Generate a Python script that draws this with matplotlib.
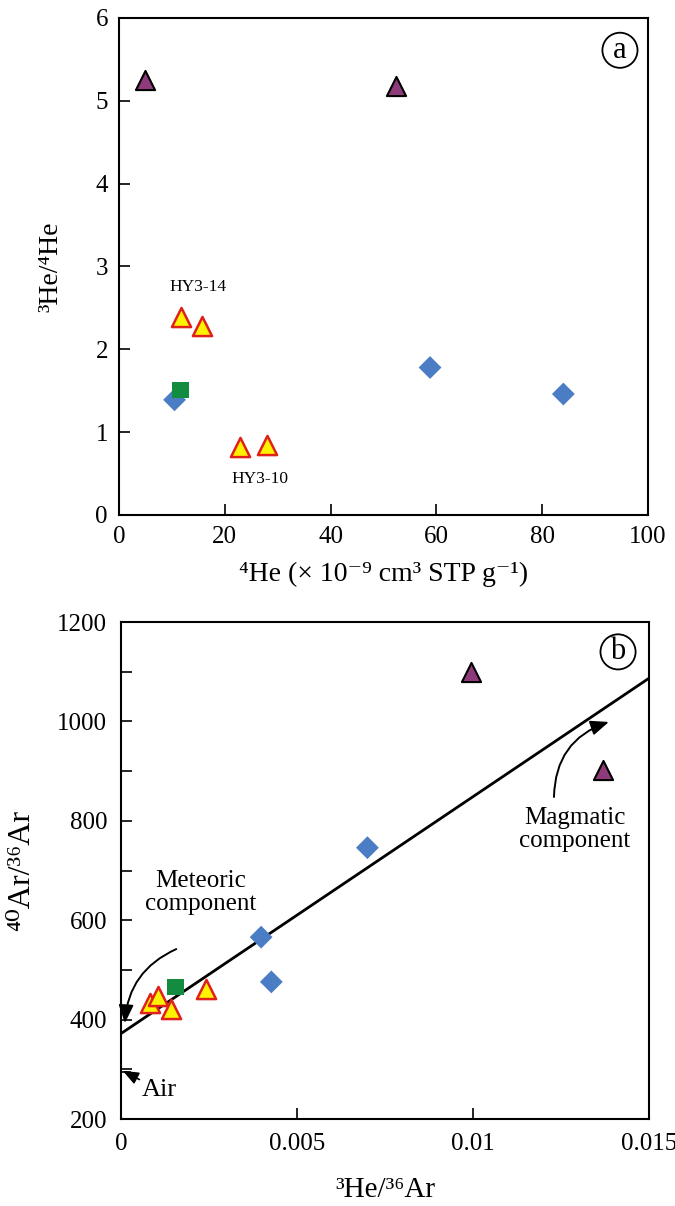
import matplotlib.pyplot as plt
import numpy as np

plt.rcParams['font.family'] = ['Liberation Serif', 'DejaVu Serif']

# Panel a data: 4He vs 3He/4He
he4_purple = [5.0, 52.4]
r_purple = [5.25, 5.18]
he4_yellow = [11.8, 15.7, 22.9, 28.0]
r_yellow = [2.39, 2.28, 0.82, 0.85]
he4_green = [11.6]
r_green = [1.51]
he4_blue = [10.5, 58.8, 84.0]
r_blue = [1.39, 1.78, 1.46]

# Panel b data: 3He/36Ar vs 40Ar/36Ar
hear_purple = [0.00993, 0.0137]
arar_purple = [1100, 902]
hear_yellow = [0.00082, 0.00104, 0.00141, 0.0024]
arar_yellow = [433, 447, 421, 462]
hear_green = [0.00155]
arar_green = [466]
hear_blue = [0.00398, 0.00427, 0.0070]
arar_blue = [566, 476, 746]

# mixing line end points
line_x = [0.0, 0.015]
line_y = [372, 1087]

purple = '#8E3B7C'
yellow = '#FFF200'
red = '#E0201B'
green = '#128C3E'
blue = '#4A7DC3'


def draw_points(ax, xp, yp, xy, yy, xg, yg, xb, yb):
    ax.scatter(xb, yb, marker='D', s=135, c=blue, edgecolors='none', zorder=3)
    ax.scatter(xg, yg, marker='s', s=140, c=green, edgecolors='none', zorder=3)
    ax.scatter(xy, yy, marker='^', s=190, c=yellow, edgecolors=red, linewidths=1.8, zorder=4)
    ax.scatter(xp, yp, marker='^', s=190, c=purple, edgecolors='black', linewidths=1.5, zorder=4)


def style_axes(ax, pad):
    for sp in ax.spines.values():
        sp.set_linewidth(1.5)
    ax.tick_params(which='both', direction='in', length=8, width=1.2,
                   labelsize=18, pad=pad, top=False, right=False)


fig = plt.figure(figsize=(6.75, 12.06), dpi=100)

# ---- panel a ----
ax1 = fig.add_axes([0.1763, 0.5730, 0.7837, 0.4121])
draw_points(ax1, he4_purple, r_purple, he4_yellow, r_yellow,
            he4_green, r_green, he4_blue, r_blue)
ax1.set_xlim(0, 100)
ax1.set_ylim(0, 6)
ax1.set_xticks([0, 20, 40, 60, 80, 100])
ax1.set_yticks([0, 1, 2, 3, 4, 5, 6])
style_axes(ax1, 8)
ax1.set_xlabel('⁴He (× 10⁻⁹ cm³ STP g⁻¹)', fontsize=20, labelpad=10)
ax1.set_ylabel('³He/⁴He', fontsize=20)
ax1.yaxis.set_label_coords(-0.106, 0.5)
ax1.text(15, 2.75, 'HY3-14', fontsize=12.5, ha='center', va='center')
ax1.text(26.7, 0.43, 'HY3-10', fontsize=12.5, ha='center', va='center')
ax1.text(94.7, 5.61, 'a', fontsize=22, ha='center', va='center',
         bbox=dict(boxstyle='circle,pad=0.1', fc='none', ec='black', lw=1.3))

# ---- panel b ----
ax2 = fig.add_axes([0.1793, 0.0721, 0.7822, 0.4121])
draw_points(ax2, hear_purple, arar_purple, hear_yellow, arar_yellow,
            hear_green, arar_green, hear_blue, arar_blue)
ax2.plot(line_x, line_y, color='black', lw=2, zorder=2)
ax2.plot([0, 0.00025], [295.5, 295.5], color='black', lw=1.2, zorder=2)
ax2.set_xlim(0, 0.015)
ax2.set_ylim(200, 1200)
ax2.set_xticks([0, 0.005, 0.01, 0.015])
ax2.set_xticklabels(['0', '0.005', '0.01', '0.015'])
ax2.set_yticks([200, 400, 600, 800, 1000, 1200])
ax2.set_yticks([300, 500, 700, 900, 1100], minor=True)
style_axes(ax2, 10)
ax2.set_xlabel('³He/³⁶Ar', fontsize=21, labelpad=16)
ax2.set_ylabel('⁴⁰Ar/³⁶Ar', fontsize=23)
ax2.yaxis.set_label_coords(-0.161, 0.5)
ax2.text(0.01412, 1140, 'b', fontsize=22, ha='center', va='center',
         bbox=dict(boxstyle='circle,pad=0.1', fc='none', ec='black', lw=1.3))

ax2.text(0.00227, 655, 'Meteoric\ncomponent', fontsize=18, ha='center', va='center',
         linespacing=1.05)
ax2.annotate('', xy=(0.00011, 393), xytext=(0.00157, 542),
             arrowprops=dict(arrowstyle='-|>,head_length=1.1,head_width=0.45',
                             connectionstyle='arc3,rad=0.3', color='black', lw=1.4,
                             shrinkA=0, shrinkB=0))
ax2.text(0.0129, 783, 'Magmatic\ncomponent', fontsize=18, ha='center', va='center',
         linespacing=1.05)
ax2.annotate('', xy=(0.01386, 999), xytext=(0.0123, 848),
             arrowprops=dict(arrowstyle='-|>,head_length=1.1,head_width=0.45',
                             connectionstyle='arc3,rad=-0.35', color='black', lw=1.4,
                             shrinkA=0, shrinkB=0))
ax2.annotate('Air', xy=(0.00005, 297), xytext=(0.0006, 258), fontsize=19,
             ha='left', va='center',
             arrowprops=dict(arrowstyle='-|>,head_length=0.5,head_width=0.2',
                             color='black', lw=1.2, shrinkA=0, shrinkB=0))

fig.savefig('out.png', dpi=100)
